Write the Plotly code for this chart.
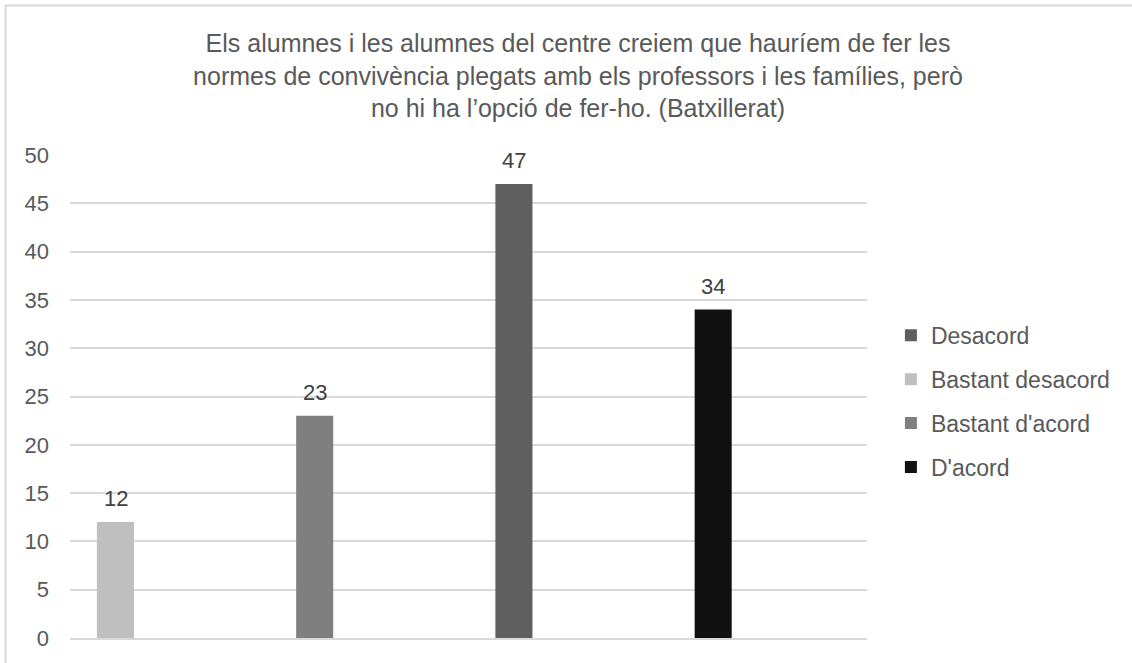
import plotly.graph_objects as go

# drawn order of the bars (left to right) and their values
categories = ["c1", "c2", "c3", "c4"]
series_names = ["Desacord", "Bastant desacord", "Bastant d'acord", "D'acord"]
series_category = ["c3", "c1", "c2", "c4"]
series_values = [47, 12, 23, 34]
series_colors = ["#5F5F5F", "#BFBFBF", "#7F7F7F", "#111111"]

y_ticks = [0, 5, 10, 15, 20, 25, 30, 35, 40, 45, 50]

title_text = (
    "Els alumnes i les alumnes del centre creiem que hauríem de fer les<br>"
    "normes de convivència plegats amb els professors i les famílies, però<br>"
    "no hi ha l’opció de fer-ho. (Batxillerat)"
)

font_family = "Liberation Sans, Arial, sans-serif"
grid_color = "#D9D9D9"
text_color = "#595959"
bar_width = 0.186
bar_offset = -0.365

fig = go.Figure()
for i, name in enumerate(series_names):
    fig.add_trace(
        go.Bar(
            x=[series_category[i]],
            y=[series_values[i]],
            name=name,
            legendgroup=name,
            marker=dict(color=series_colors[i], line=dict(width=0)),
            width=bar_width,
            offset=bar_offset,
        )
    )
    # value label above the bar
    fig.add_annotation(
        x=series_category[i],
        y=series_values[i],
        xref="x",
        yref="y",
        text=str(series_values[i]),
        showarrow=False,
        yanchor="bottom",
        xshift=-54,
        yshift=9,
        font=dict(size=22, color="#404040", family=font_family),
    )

fig.update_layout(
    width=1132,
    height=663,
    barmode="overlay",
    paper_bgcolor="white",
    plot_bgcolor="white",
    font=dict(family=font_family, color=text_color),
    margin=dict(l=70, r=265, t=155, b=25, autoexpand=False),
    title=dict(
        text=title_text,
        x=578 / 1132,
        xanchor="center",
        xref="container",
        y=1 - 52 / 663,
        yanchor="top",
        yref="container",
        font=dict(size=25, color=text_color, family=font_family),
    ),
    legend=dict(
        x=1.03,
        xref="paper",
        xanchor="left",
        y=0.49,
        yanchor="middle",
        font=dict(size=23, color=text_color, family=font_family),
        tracegroupgap=11,
        bgcolor="rgba(0,0,0,0)",
    ),
)

fig.update_xaxes(
    type="category",
    categoryorder="array",
    categoryarray=categories,
    range=[-0.5, 3.5],
    showticklabels=False,
    showgrid=False,
    showline=True,
    linecolor=grid_color,
    linewidth=1.5,
    ticks="",
)

fig.update_yaxes(
    range=[0, 50],
    tickvals=y_ticks,
    showgrid=True,
    gridcolor=grid_color,
    gridwidth=1.5,
    zeroline=False,
    showline=False,
    ticks="",
    ticklabelstandoff=20,
    tickfont=dict(size=22, color=text_color, family=font_family),
)

# light outer frame of the chart area
fig.add_shape(
    type="rect",
    xref="paper",
    yref="paper",
    x0=(5.5 - 70) / 797,
    x1=1.5,
    y0=-0.2,
    y1=(638 - 5.5) / 483,
    line=dict(color=grid_color, width=2),
    fillcolor="rgba(0,0,0,0)",
    layer="below",
)

fig.write_html(
    "out.html",
    config={"displayModeBar": False},
    post_script="document.body.style.margin = '0';",
)
